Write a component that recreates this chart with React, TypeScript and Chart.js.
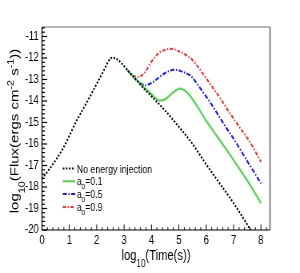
import React, { useEffect, useRef } from 'react';
import { Chart, registerables } from 'chart.js';

Chart.register(...registerables);

// The reference looks horizontally squeezed: draw on a wider canvas and shrink it with CSS.
const SX = 0.8;
const W = 300;
const H = 273;
const CW = W / SX; // 375

// ---- data (log10 time, log10 flux) ----
const noInjX = [0, 0.25, 0.5, 0.75, 1, 1.25, 1.5, 1.75, 2, 2.25, 2.4, 2.5, 2.6, 2.75, 3, 3.25, 3.5, 3.75, 4, 4.5, 5, 5.5, 6, 6.5, 7, 7.5, 7.75];
const noInjY = [-17.62, -17.2, -16.75, -16.25, -15.62, -14.95, -14.38, -13.8, -13.2, -12.6, -12.22, -12.02, -11.99, -12.07, -12.38, -12.75, -13.1, -13.45, -13.78, -14.45, -15.2, -16.0, -16.95, -17.85, -18.75, -19.75, -20.25];

const a01X = [3.1, 3.3, 3.5, 3.75, 4.0, 4.15, 4.3, 4.45, 4.6, 4.75, 4.9, 5.04, 5.2, 5.4, 5.5, 5.75, 6.0, 6.25, 6.5, 7.0, 7.5, 8.0];
const a01Y = [-12.55, -12.8, -13.08, -13.4, -13.68, -13.87, -13.98, -13.95, -13.82, -13.65, -13.5, -13.43, -13.5, -13.74, -13.92, -14.4, -14.92, -15.38, -15.83, -16.75, -17.7, -18.75];

const a05X = [3.1, 3.3, 3.5, 3.76, 3.95, 4.1, 4.3, 4.5, 4.7, 4.9, 5.05, 5.25, 5.4, 5.5, 5.75, 6.0, 6.25, 6.5, 6.75, 7.0, 7.5, 8.0];
const a05Y = [-12.55, -12.83, -13.08, -13.27, -13.2, -13.08, -12.88, -12.7, -12.58, -12.55, -12.6, -12.7, -12.8, -12.92, -13.35, -13.8, -14.27, -14.78, -15.28, -15.75, -16.8, -17.83];

const a09X = [3.1, 3.3, 3.45, 3.6, 3.8, 3.95, 4.1, 4.3, 4.5, 4.67, 4.85, 5.05, 5.25, 5.5, 5.75, 6.0, 6.25, 6.5, 6.75, 7.0, 7.25, 7.5, 7.75, 8.0];
const a09Y = [-12.55, -12.78, -12.88, -12.85, -12.6, -12.27, -12.0, -11.74, -11.62, -11.57, -11.6, -11.72, -11.85, -12.1, -12.5, -12.95, -13.4, -13.85, -14.35, -14.82, -15.28, -15.72, -16.25, -16.83];

const seriesLabels = ['No energy injection', 'a₀=0.1', 'a₀=0.5', 'a₀=0.9'];
const xTitle = 'log₁₀(Time(s))';
const yTitle = 'log₁₀(Flux(ergs cm⁻² s⁻¹))';

const X_MIN = 0;
const X_MAX = 8.33;
const Y_MIN = -20;
const Y_MAX = -10.56;
const MAJOR_STEP = 1;
const MINOR_PER_MAJOR = 5;

const FONT = "'Liberation Sans', Arial, Helvetica, sans-serif";

type Seg = { t: string; k: 0 | 1 | 2 };
function parseRich(s: string): Seg[] {
  const sub = '₀₁₂₃₄₅₆₇₈₉₋';
  const sup = '⁰¹²³⁴⁵⁶⁷⁸⁹⁻';
  const plain = '0123456789-';
  const segs: Seg[] = [];
  for (const ch of s) {
    let k: 0 | 1 | 2 = 0;
    let c = ch;
    const i = sub.indexOf(ch);
    const j = sup.indexOf(ch);
    if (i >= 0) { k = 1; c = plain[i]; }
    else if (j >= 0) { k = 2; c = plain[j]; }
    const last = segs[segs.length - 1];
    if (last && last.k === k) last.t += c; else segs.push({ t: c, k });
  }
  return segs;
}

function drawRich(ctx: CanvasRenderingContext2D, s: string, x: number, y: number, size: number, center: boolean, subShift = 0.5) {
  const segs = parseRich(s);
  const fontFor = (k: number) => `${k ? size * 0.72 : size}px ${FONT}`;
  let total = 0;
  const widths = segs.map((sg) => {
    ctx.font = fontFor(sg.k);
    const w = ctx.measureText(sg.t).width;
    total += w;
    return w;
  });
  let cx = center ? x - total / 2 : x;
  ctx.textAlign = 'left';
  ctx.textBaseline = 'alphabetic';
  segs.forEach((sg, i) => {
    ctx.font = fontFor(sg.k);
    const dy = sg.k === 1 ? subShift * size : sg.k === 2 ? -0.42 * size : 0;
    ctx.fillText(sg.t, cx, y + dy);
    cx += widths[i];
  });
}

const rootPlugin = {
  id: 'rootStyle',
  afterDraw(chart: any) {
    const { ctx, chartArea: a, scales } = chart;
    const xs = scales.x;
    const ys = scales.y;
    ctx.save();
    // frame (top / right)
    ctx.strokeStyle = '#9c9c9c';
    ctx.lineWidth = 1.5;
    ctx.beginPath(); ctx.moveTo(a.left, a.top); ctx.lineTo(a.right, a.top); ctx.stroke();
    ctx.lineWidth = 2.5;
    ctx.beginPath(); ctx.moveTo(a.right, a.top); ctx.lineTo(a.right, a.bottom); ctx.stroke();
    // axes
    ctx.strokeStyle = '#000';
    ctx.lineWidth = 1.25;
    ctx.beginPath(); ctx.moveTo(a.left, a.top); ctx.lineTo(a.left, a.bottom); ctx.stroke();
    ctx.lineWidth = 1;
    ctx.beginPath(); ctx.moveTo(a.left, a.bottom); ctx.lineTo(a.right, a.bottom); ctx.stroke();
    // ticks (inward)
    ctx.lineWidth = 1;
    const minor = MAJOR_STEP / MINOR_PER_MAJOR;
    for (let i = 0; X_MIN + i * minor <= X_MAX + 1e-9; i++) {
      const v = X_MIN + i * minor;
      const px = xs.getPixelForValue(v);
      const len = i % MINOR_PER_MAJOR === 0 ? 5.5 : 2.8;
      ctx.beginPath(); ctx.moveTo(px, a.bottom); ctx.lineTo(px, a.bottom - len); ctx.stroke();
    }
    ctx.lineWidth = 1.2;
    for (let i = 0; Y_MIN + i * minor <= Y_MAX + 1e-9; i++) {
      const v = Y_MIN + i * minor;
      const py = ys.getPixelForValue(v);
      const len = i % MINOR_PER_MAJOR === 0 ? 6.5 : 3.6;
      ctx.beginPath(); ctx.moveTo(a.left, py); ctx.lineTo(a.left + len, py); ctx.stroke();
    }

    // legend
    ctx.fillStyle = '#000';
    const rowY0 = 168.5;
    const rowStep = 12.8;
    chart.data.datasets.forEach((ds: any, i: number) => {
      const y = rowY0 + i * rowStep;
      ctx.save();
      ctx.strokeStyle = ds.borderColor;
      ctx.lineWidth = ds.borderWidth;
      ctx.setLineDash(ds.borderDash || []);
      ctx.beginPath(); ctx.moveTo(78.5, y); ctx.lineTo(94, y); ctx.stroke();
      ctx.restore();
      drawRich(ctx, ds.label, 96, y + 4, 11, false, 0.38);
    });

    // axis titles
    drawRich(ctx, xTitle, (a.left + a.right) / 2, 260, 14, true, 0.5);
    ctx.save();
    ctx.translate(18, 131);
    ctx.rotate(-Math.PI / 2);
    drawRich(ctx, yTitle, 0, 0.36 * 15, 15, true, 0.5);
    ctx.restore();

    ctx.restore();
  },
};

const toPts = (xs: number[], ys: number[]) => xs.map((x, i) => ({ x, y: ys[i] }));

export default function App() {
  const ref = useRef<HTMLCanvasElement | null>(null);
  useEffect(() => {
    document.body.style.margin = '0';
    const canvas = ref.current;
    if (!canvas) return;
    const common = { pointRadius: 0, cubicInterpolationMode: 'monotone' as const, fill: false };
    const chart = new Chart(canvas, {
      type: 'line',
      data: {
        datasets: [
          { ...common, label: seriesLabels[0], data: toPts(noInjX, noInjY), borderColor: '#000000', borderWidth: 2, borderDash: [2, 1.8] },
          { ...common, label: seriesLabels[1], data: toPts(a01X, a01Y), borderColor: 'rgb(88,212,88)', borderWidth: 2.2 },
          { ...common, label: seriesLabels[2], data: toPts(a05X, a05Y), borderColor: 'rgb(20,20,255)', borderWidth: 2, borderDash: [5, 2, 1.5, 2] },
          { ...common, label: seriesLabels[3], data: toPts(a09X, a09Y), borderColor: 'rgb(255,40,40)', borderWidth: 2, borderDash: [4, 2, 1.5, 2] },
        ],
      },
      options: {
        animation: false,
        responsive: false,
        devicePixelRatio: 1,
        layout: { padding: { top: 27, right: CW - 270 / SX, left: 0, bottom: 0 } },
        plugins: { legend: { display: false }, tooltip: { enabled: false }, title: { display: false } },
        scales: {
          x: {
            type: 'linear',
            min: X_MIN,
            max: X_MAX,
            afterFit: (s: any) => { s.height = H - 230; },
            grid: { display: false, drawTicks: false },
            border: { display: false },
            ticks: {
              stepSize: MAJOR_STEP,
              includeBounds: false,
              autoSkip: false,
              maxRotation: 0,
              padding: 3,
              color: '#000',
              font: { family: FONT, size: 12 },
            },
          },
          y: {
            type: 'linear',
            min: Y_MIN,
            max: Y_MAX,
            afterFit: (s: any) => { s.width = 42 / SX; },
            grid: { display: false, drawTicks: false },
            border: { display: false },
            ticks: {
              stepSize: MAJOR_STEP,
              includeBounds: false,
              autoSkip: false,
              padding: 4,
              color: '#000',
              font: { family: FONT, size: 12 },
            },
          },
        },
      },
      plugins: [rootPlugin],
    });
    return () => chart.destroy();
  }, []);
  return (
    <div style={{ position: 'absolute', left: 0, top: 0, width: W, height: H, background: '#fff' }}>
      <canvas ref={ref} width={CW} height={H} style={{ width: `${W}px`, height: `${H}px`, display: 'block' }} />
    </div>
  );
}
